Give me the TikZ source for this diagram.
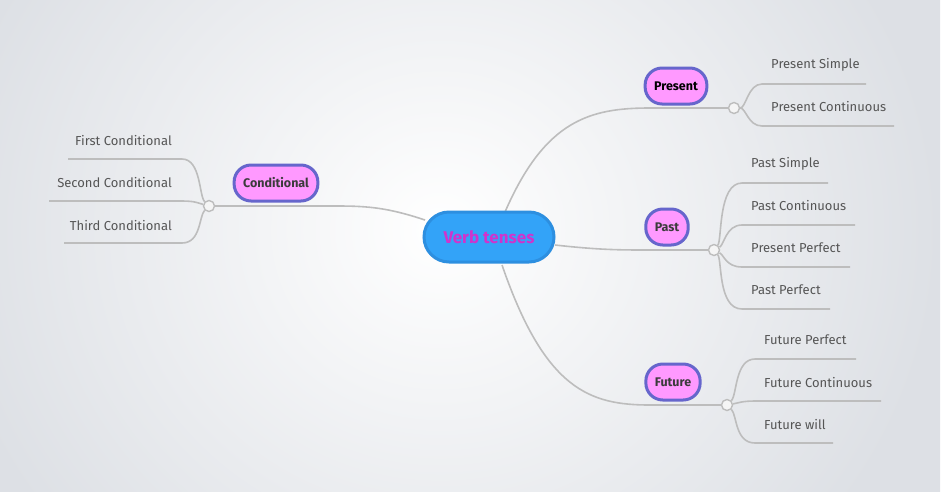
\documentclass[tikz,border=0pt]{standalone}
\usepackage{fontspec}
\setmainfont{Fira Sans}
\begin{document}
\begin{tikzpicture}[x=1pt,y=-1pt,
  conn/.style={draw=lineg,line width=1.6pt},
  topic/.style={rounded corners=17pt,fill=pinkf,draw=bordb,line width=3pt,minimum height=36pt,font=\bfseries\fontsize{12.5}{14}\selectfont,inner xsep=9pt},
  leaf/.style={font=\fontsize{13}{15}\selectfont,text=leaftxt,inner sep=0pt},
  knob/.style={circle,draw=lineg,fill=gray!8,line width=1.4pt,minimum size=11pt,inner sep=0pt}]
\definecolor{lineg}{HTML}{BDBDBD}
\definecolor{pinkf}{HTML}{FF99FF}
\definecolor{bordb}{HTML}{6666CC}
\definecolor{leaftxt}{HTML}{555555}
\definecolor{bgc}{HTML}{DDE0E5}
\definecolor{cfill}{HTML}{33A3F8}
\definecolor{cbord}{HTML}{2D8FE0}
\definecolor{ctext}{HTML}{D033CC}
\useasboundingbox (0,0) rectangle (944,491);
\shade[inner color=white,outer color=bgc] (-60,-240) rectangle (940,700);
% knobs
\node[knob] (kp) at (734,108) {};
\node[knob] (ka) at (714,250) {};
\node[knob] (kf) at (727,405) {};
\node[knob] (kc) at (209,206) {};
% main connectors
\coordinate (cp) at (505,212);
\coordinate (ca) at (555,245);
\coordinate (cf) at (502,265);
\coordinate (cc) at (425,220);
\draw[conn] (cp) .. controls (545,120) and (590,108) .. (650,108) -- (kp);
\draw[conn] (ca) .. controls (600,250) and (620,250) .. (650,250) -- (ka);
\draw[conn] (cf) .. controls (545,390) and (590,405) .. (650,405) -- (kf);
\draw[conn] (cc) .. controls (380,205) and (360,206) .. (320,206) -- (kc);
% center
\node[rounded corners=25pt,fill=cfill,draw=cbord,line width=3pt,minimum width=130pt,minimum height=50pt,text=ctext,font=\bfseries\fontsize{17}{20}\selectfont] (c) at (489,237) {Verb tenses};
% topics
\node[topic] (p) at (676,86) {Present};
\node[topic,text=leaftxt!70!black] (a) at (667,227) {Past};
\node[topic,text=leaftxt!70!black] (f) at (673,382) {Future};
\node[topic,text=leaftxt!70!black] (cd) at (276,183) {Conditional};
% leaves: Present
\coordinate (p1a) at (762,84); \coordinate (p1b) at (866,84);
\coordinate (p2a) at (762,126); \coordinate (p2b) at (894,126);
\draw[conn] (kp.east) .. controls (746,108) and (748,84) .. (p1a) -- (p1b);
\draw[conn] (kp.east) .. controls (746,108) and (748,126) .. (p2a) -- (p2b);
\node[leaf,anchor=west] (lp1) at (771,65) {Present Simple};
\node[leaf,anchor=west] (lp2) at (771,107) {Present Continuous};
% Past
\coordinate (a1a) at (742,183); \coordinate (a1b) at (828,183);
\coordinate (a2a) at (742,225); \coordinate (a2b) at (855,225);
\coordinate (a3a) at (742,267); \coordinate (a3b) at (850,267);
\coordinate (a4a) at (742,309); \coordinate (a4b) at (830,309);
\draw[conn] (ka) .. controls (722,240) and (718,183) .. (a1a) -- (a1b);
\draw[conn] (ka) .. controls (724,245) and (726,225) .. (a2a) -- (a2b);
\draw[conn] (ka) .. controls (724,255) and (726,267) .. (a3a) -- (a3b);
\draw[conn] (ka) .. controls (722,260) and (718,309) .. (a4a) -- (a4b);
\node[leaf,anchor=west] at (751,164) {Past Simple};
\node[leaf,anchor=west] at (751,206) {Past Continuous};
\node[leaf,anchor=west] at (751,248) {Present Perfect};
\node[leaf,anchor=west] at (751,290) {Past Perfect};
% Future
\coordinate (f1a) at (755,359); \coordinate (f1b) at (856,359);
\coordinate (f2a) at (755,401); \coordinate (f2b) at (881,401);
\coordinate (f3a) at (755,443); \coordinate (f3b) at (833,443);
\draw[conn] (kf) .. controls (737,395) and (735,359) .. (f1a) -- (f1b);
\draw[conn] (kf) .. controls (738,403) and (742,401) .. (f2a) -- (f2b);
\draw[conn] (kf) .. controls (737,415) and (735,443) .. (f3a) -- (f3b);
\node[leaf,anchor=west] at (764,340) {Future Perfect};
\node[leaf,anchor=west] at (764,382) {Future Continuous};
\node[leaf,anchor=west] at (764,424) {Future will};
% Conditional
\coordinate (k1a) at (182,159); \coordinate (k1b) at (68,159);
\coordinate (k2a) at (182,201); \coordinate (k2b) at (49,201);
\coordinate (k3a) at (182,243); \coordinate (k3b) at (64,243);
\draw[conn] (kc) .. controls (199,196) and (201,159) .. (k1a) -- (k1b);
\draw[conn] (kc) .. controls (198,203) and (195,201) .. (k2a) -- (k2b);
\draw[conn] (kc) .. controls (199,216) and (201,243) .. (k3a) -- (k3b);
\node[leaf,anchor=east] at (172,141) {First Conditional};
\node[leaf,anchor=east] at (172,183) {Second Conditional};
\node[leaf,anchor=east] at (172,225) {Third Conditional};
\end{tikzpicture}
\end{document}
